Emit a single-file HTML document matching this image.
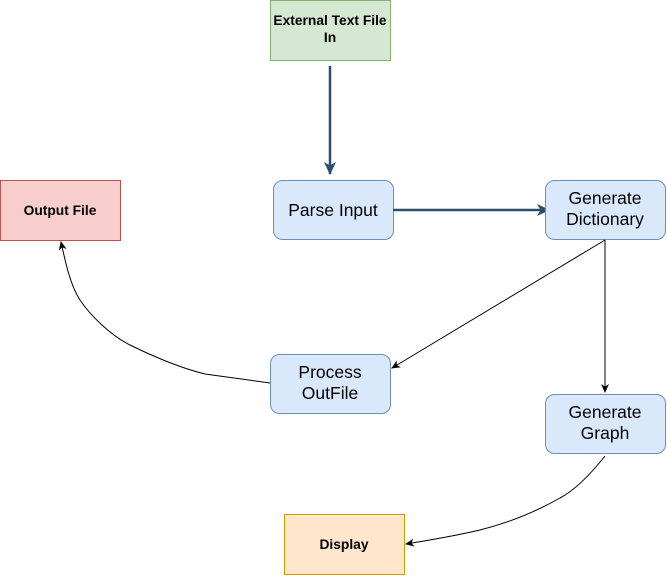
<!DOCTYPE html>
<html><head><style>
body{margin:0;background:#fff;}
svg text{font-family:"Liberation Sans",Helvetica,sans-serif;}
</style></head><body>
<svg width="667" height="576" viewBox="0 0 667 576" xmlns="http://www.w3.org/2000/svg">
<defs>
<marker id="a" markerWidth="10" markerHeight="10" refX="8" refY="5" orient="auto" markerUnits="userSpaceOnUse"><path d="M0,1 L9,5 L0,9 L2.5,5 Z" fill="#000"/></marker>
<marker id="b" markerWidth="14" markerHeight="14" refX="12" refY="7" orient="auto" markerUnits="userSpaceOnUse"><path d="M0,1 L13,7 L0,13 L3.5,7 Z" fill="#2b4f6b"/></marker>
</defs>
<rect x="270.5" y="0.5" width="120" height="60" fill="#d5e8d4" stroke="#82b366"/>
<text x="330" y="25" font-size="13.8" font-weight="bold" text-anchor="middle">External Text File</text>
<text x="330" y="42" font-size="13.8" font-weight="bold" text-anchor="middle">In</text>
<line x1="330" y1="66" x2="330" y2="174" stroke="#2b4f6b" stroke-width="2.5" marker-end="url(#b)"/>
<rect x="273.5" y="180.5" width="120" height="59" rx="9" fill="#dae8fc" stroke="#6c8ebf"/>
<text x="333" y="216" font-size="17.5" text-anchor="middle">Parse Input</text>
<line x1="393" y1="210" x2="549" y2="210" stroke="#2b4f6b" stroke-width="2.5" marker-end="url(#b)"/>
<rect x="545.5" y="180.5" width="120" height="59" rx="9" fill="#dae8fc" stroke="#6c8ebf"/>
<text x="605" y="204" font-size="17.5" text-anchor="middle">Generate</text>
<text x="605" y="225" font-size="17.5" text-anchor="middle">Dictionary</text>
<rect x="0.5" y="180.5" width="120" height="60" fill="#f8cecc" stroke="#b85450"/>
<text x="60" y="215" font-size="13.8" font-weight="bold" text-anchor="middle">Output File</text>
<rect x="270.5" y="354.5" width="120" height="59" rx="9" fill="#dae8fc" stroke="#6c8ebf"/>
<text x="330" y="378" font-size="17.5" text-anchor="middle">Process</text>
<text x="330" y="399" font-size="17.5" text-anchor="middle">OutFile</text>
<rect x="545.5" y="394.5" width="120" height="59" rx="9" fill="#dae8fc" stroke="#6c8ebf"/>
<text x="605" y="418" font-size="17.5" text-anchor="middle">Generate</text>
<text x="605" y="439" font-size="17.5" text-anchor="middle">Graph</text>
<rect x="284.5" y="514.5" width="120" height="60" fill="#ffe6cc" stroke="#d79b00"/>
<text x="344" y="549" font-size="13.8" font-weight="bold" text-anchor="middle">Display</text>
<line x1="605" y1="240" x2="605" y2="392" stroke="#000" marker-end="url(#a)"/>
<line x1="605" y1="240" x2="392" y2="368" stroke="#000" marker-end="url(#a)"/>
<path d="M270,383 L205,374 C180,368 150,355 130,345 C110,335 90,315 80,300 C70,285 65,260 61,242" fill="none" stroke="#000" marker-end="url(#a)"/>
<path d="M605,456 C590,475 575,490 560,498 C530,515 500,525 480,530 C450,537 430,540 406,544" fill="none" stroke="#000" marker-end="url(#a)"/>
</svg>
</body></html>
